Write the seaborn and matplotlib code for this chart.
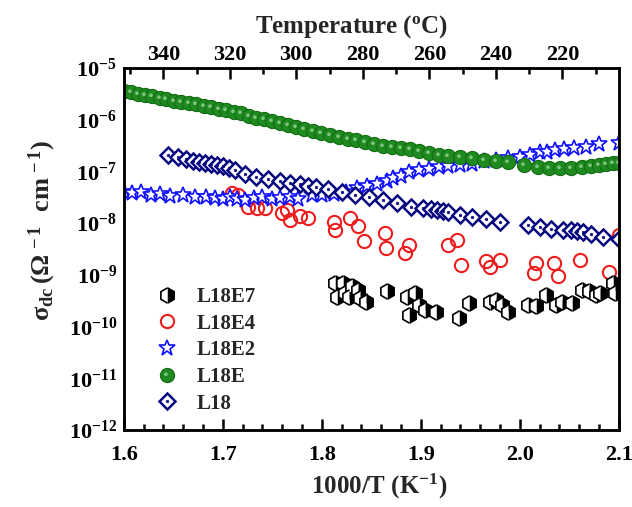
import numpy as np
import pandas as pd
import matplotlib
matplotlib.use("Agg")
import matplotlib.pyplot as plt
import seaborn as sns
from matplotlib.path import Path
from matplotlib.ticker import MultipleLocator, LogLocator, NullFormatter, LogFormatterSciNotation
from matplotlib.legend_handler import HandlerTuple

# ---------------- data (1000/T in K^-1, log10 of sigma_dc) ----------------
l18e_x = [1.600, 1.607, 1.614, 1.621, 1.628, 1.636, 1.643, 1.651, 1.658, 1.666,
          1.673, 1.681, 1.688, 1.696, 1.703, 1.711, 1.718, 1.726, 1.734, 1.742,
          1.750, 1.758, 1.766, 1.774, 1.782, 1.791, 1.799, 1.808, 1.817, 1.826,
          1.835, 1.844, 1.853, 1.862, 1.871, 1.880, 1.889, 1.898, 1.908, 1.918,
          1.928, 1.940, 1.952, 1.964, 1.976, 1.988, 2.004, 2.018, 2.030, 2.041,
          2.052, 2.063, 2.072, 2.080, 2.087, 2.094, 2.100]
l18e_log = [-5.45, -5.47, -5.50, -5.53, -5.55, -5.58, -5.60, -5.63, -5.65, -5.68,
            -5.70, -5.73, -5.76, -5.79, -5.82, -5.85, -5.88, -5.92, -5.96, -5.99,
            -6.03, -6.07, -6.11, -6.15, -6.18, -6.22, -6.26, -6.30, -6.34, -6.37,
            -6.40, -6.43, -6.47, -6.50, -6.52, -6.54, -6.56, -6.60, -6.64, -6.68,
            -6.70, -6.73, -6.75, -6.78, -6.80, -6.82, -6.87, -6.92, -6.93, -6.93,
            -6.93, -6.92, -6.90, -6.88, -6.86, -6.84, -6.83]

l18e2_x = [1.600, 1.608, 1.617, 1.627, 1.637, 1.647, 1.660, 1.672, 1.683, 1.692,
           1.700, 1.707, 1.714, 1.722, 1.731, 1.740, 1.750, 1.758, 1.768, 1.776,
           1.790, 1.800, 1.812, 1.824, 1.836, 1.846, 1.856, 1.866, 1.872, 1.880,
           1.888, 1.898, 1.908, 1.918, 1.928, 1.940, 1.952, 1.964, 1.976, 1.988,
           2.000, 2.010, 2.020, 2.028, 2.036, 2.045, 2.055, 2.067, 2.080, 2.100]
l18e2_log = [-7.40, -7.42, -7.40, -7.45, -7.44, -7.47, -7.46, -7.50, -7.49, -7.52,
             -7.54, -7.50, -7.53, -7.55, -7.52, -7.50, -7.53, -7.51, -7.49, -7.53,
             -7.46, -7.45, -7.44, -7.40, -7.33, -7.28, -7.24, -7.19, -7.12, -7.08,
             -7.02, -6.98, -6.95, -6.92, -6.90, -6.88, -6.85, -6.80, -6.78, -6.75,
             -6.72, -6.68, -6.63, -6.62, -6.58, -6.57, -6.55, -6.52, -6.47, -6.45]

l18_x = [1.645, 1.655, 1.663, 1.670, 1.676, 1.682, 1.688, 1.694, 1.700, 1.706,
         1.712, 1.722, 1.734, 1.746, 1.758, 1.768, 1.778, 1.786, 1.794, 1.806,
         1.820, 1.834, 1.848, 1.862, 1.876, 1.890, 1.902, 1.910, 1.916, 1.922,
         1.928, 1.940, 1.952, 1.966, 1.980, 2.008, 2.020, 2.032, 2.044, 2.052,
         2.058, 2.064, 2.072, 2.084, 2.100]
l18_log = [-6.68, -6.72, -6.76, -6.79, -6.82, -6.84, -6.86, -6.88, -6.90, -6.93,
           -6.98, -7.06, -7.10, -7.14, -7.18, -7.22, -7.25, -7.28, -7.31, -7.35,
           -7.40, -7.45, -7.50, -7.56, -7.62, -7.68, -7.71, -7.73, -7.75, -7.77,
           -7.79, -7.84, -7.88, -7.92, -7.97, -8.03, -8.07, -8.11, -8.13, -8.14,
           -8.16, -8.18, -8.21, -8.27, -8.31]

l18e4_x = [1.709, 1.715, 1.725, 1.735, 1.743, 1.760, 1.765, 1.768, 1.778, 1.786,
           1.812, 1.813, 1.828, 1.837, 1.843, 1.864, 1.865, 1.884, 1.888, 1.927,
           1.937, 1.941, 1.966, 1.970, 1.980, 2.016, 2.014, 2.035, 2.039, 2.061,
           2.090, 2.100]
l18e4_log = [-7.42, -7.45, -7.68, -7.71, -7.71, -7.81, -7.75, -7.94, -7.87, -7.90,
             -7.97, -8.13, -7.90, -8.06, -8.35, -8.19, -8.48, -8.58, -8.42, -8.42,
             -8.32, -8.81, -8.74, -8.84, -8.71, -8.77, -8.97, -8.77, -9.03, -8.72,
             -8.94, -8.23]

l18e7_x = [1.813, 1.815, 1.821, 1.823, 1.831, 1.827, 1.837, 1.839, 1.845, 1.866,
           1.886, 1.894, 1.888, 1.898, 1.904, 1.915, 1.939, 1.949, 1.970, 1.976,
           1.982, 1.988, 2.008, 2.016, 2.027, 2.037, 2.043, 2.053, 2.063, 2.070,
           2.077, 2.081, 2.094, 2.096]
l18e7_log = [-9.16, -9.42, -9.16, -9.35, -9.21, -9.42, -9.29, -9.45, -9.52, -9.32,
             -9.42, -9.35, -9.77, -9.58, -9.68, -9.71, -9.84, -9.55, -9.52, -9.48,
             -9.58, -9.71, -9.58, -9.61, -9.39, -9.58, -9.52, -9.55, -9.29, -9.32,
             -9.39, -9.35, -9.16, -9.35]

labels = ["L18E7", "L18E4", "L18E2", "L18E", "L18"]
xticks = [1.6, 1.7, 1.8, 1.9, 2.0, 2.1]
top_ticks = [340, 320, 300, 280, 260, 240, 220]


def frame(x, logs):
    return pd.DataFrame({"x": x, "y": np.power(10.0, logs)})


# small off-centre gleam used to give the green markers a sphere look
_gl = Path.circle(center=(-0.22, 0.18), radius=0.26)
gleam = Path(np.concatenate([_gl.vertices, [[-1.0, -1.0], [1.0, 1.0]]]),
             np.concatenate([_gl.codes, [Path.MOVETO, Path.MOVETO]]))

# ---------------- style ----------------
sns.set_theme(style="white")
plt.rcParams["font.family"] = ["Liberation Serif", "DejaVu Serif"]
plt.rcParams["font.weight"] = "bold"
plt.rcParams["mathtext.fontset"] = "custom"
plt.rcParams["mathtext.rm"] = "Liberation Serif:bold"
plt.rcParams["mathtext.bf"] = "Liberation Serif:bold"
plt.rcParams["mathtext.it"] = "Liberation Serif:bold:italic"
plt.rcParams["mathtext.default"] = "bf"

fig = plt.figure(figsize=(6.32, 5.07), dpi=100)
ax = fig.add_axes([0.196, 0.152, 0.783, 0.714])
ax.set_yscale("log")

common = dict(estimator=None, sort=False, linestyle="", ax=ax, legend=False)

sns.lineplot(data=frame(l18e4_x, l18e4_log), x="x", y="y", marker="o", markersize=9.5,
             markerfacecolor="none", markeredgecolor="#ee1c1c", markeredgewidth=1.5,
             color="#ee1c1c", **common)
h_e4 = ax.lines[-1]
sns.lineplot(data=frame(l18e2_x, l18e2_log), x="x", y="y", marker="*", markersize=12,
             markerfacecolor="white", markeredgecolor="#1010ff", markeredgewidth=1.2,
             color="#1010ff", **common)
h_e2 = ax.lines[-1]
sns.lineplot(data=frame(l18e_x, l18e_log), x="x", y="y", marker="o", markersize=10.2,
             markerfacecolor="#1f8a1f", markeredgecolor="#136d13", markeredgewidth=0.8,
             color="#1f8a1f", **common)
h_e = ax.lines[-1]
sns.lineplot(data=frame(l18e_x, l18e_log), x="x", y="y", marker=gleam, markersize=10.2,
             markerfacecolor="#8fd08f", markeredgewidth=0, alpha=0.85,
             color="#8fd08f", **common)
h_eg = ax.lines[-1]
sns.lineplot(data=frame(l18_x, l18_log), x="x", y="y", marker="D", markersize=8.3,
             markerfacecolor="white", markeredgecolor="#0a0a80", markeredgewidth=1.8,
             color="#0a0a80", **common)
h_l18 = ax.lines[-1]
sns.lineplot(data=frame(l18_x, l18_log), x="x", y="y", marker="o", markersize=1.8,
             markerfacecolor="#0a0a80", markeredgecolor="#0a0a80", markeredgewidth=0.5,
             color="#0a0a80", **common)
h_l18d = ax.lines[-1]
sns.lineplot(data=frame(l18e7_x, l18e7_log), x="x", y="y", marker="h", markersize=11,
             fillstyle="right", markerfacecolor="black", markerfacecoloralt="white",
             markeredgecolor="black", markeredgewidth=1.2, color="black", **common)
h_e7 = ax.lines[-1]

# ---------------- axes ----------------
ax.set_xlim(1.6, 2.1)
ax.set_ylim(1e-12, 1e-5)
ax.set_xticks(xticks)
ax.set_xticklabels([f"{t:.1f}" for t in xticks])
ax.xaxis.set_minor_locator(MultipleLocator(0.02))
ax.yaxis.set_major_locator(LogLocator(base=10, numticks=20))
ax.yaxis.set_minor_locator(LogLocator(base=10, subs=np.arange(2, 10), numticks=20))
ax.yaxis.set_major_formatter(LogFormatterSciNotation())
ax.yaxis.set_minor_formatter(NullFormatter())
ax.tick_params(axis="both", which="both", direction="in", top=False, right=False,
               colors="black", width=1.8, labelsize=16)
ax.tick_params(axis="both", which="major", length=8)
ax.tick_params(axis="both", which="minor", length=4)
ax.tick_params(axis="x", pad=11)
ax.tick_params(axis="y", pad=5)
for s in ax.spines.values():
    s.set_linewidth(1.8)
    s.set_color("black")

ax.set_xlabel(r"1000/T (K$^{\mathbf{-1}}$)", fontsize=18, fontweight="bold", va="center")
ax.xaxis.set_label_coords(0.515, -0.157)
ax.set_ylabel(r"$\sigma_{\mathbf{dc}}\,(\Omega^{\,-1}\ \ \mathbf{cm}^{\,-1})$", fontsize=19,
              va="center")
ax.yaxis.set_label_coords(-0.165, 0.55)

ax2 = ax.twiny()
ax2.set_xlim(1000 / 1.6 - 273.15, 1000 / 2.1 - 273.15)
ax2.set_xticks(top_ticks)
ax2.set_xticklabels([str(t) for t in top_ticks])
ax2.xaxis.set_minor_locator(MultipleLocator(10))
ax2.tick_params(axis="x", which="both", direction="in", top=True, bottom=False,
                colors="black", width=1.8, labelsize=16, pad=2)
ax2.tick_params(axis="x", which="major", length=8)
ax2.tick_params(axis="x", which="minor", length=4)
ax2.set_xlabel(r"Temperature ($^{\mathbf{o}}$C)", fontsize=18, fontweight="bold",
               va="center")
ax2.xaxis.set_label_coords(0.46, 1.113)
for s in ax2.spines.values():
    s.set_linewidth(1.8)
    s.set_color("black")
ax2.grid(False)
ax.grid(False)

leg = ax.legend([h_e7, h_e4, h_e2, (h_e, h_eg), (h_l18, h_l18d)], labels,
                loc="center left", bbox_to_anchor=(0.02, 0.22), frameon=False,
                handlelength=1.4, handletextpad=0.7, labelspacing=0.32, fontsize=15,
                numpoints=1, handler_map={tuple: HandlerTuple(ndivide=1, pad=0)})
for t in leg.get_texts():
    t.set_fontweight("bold")

fig.savefig("out.png", dpi=100)
